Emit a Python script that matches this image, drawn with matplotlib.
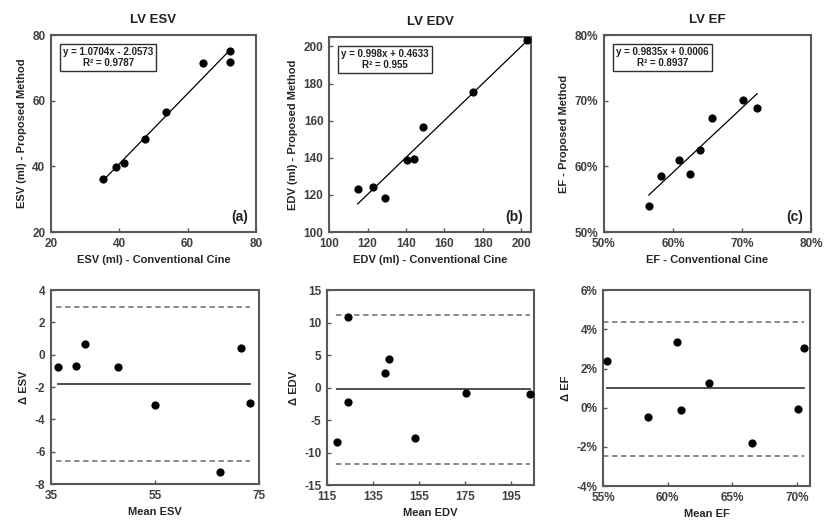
import numpy as np
import matplotlib.pyplot as plt
from matplotlib.ticker import PercentFormatter

plt.rcParams['font.family'] = ['Liberation Sans', 'DejaVu Sans']
plt.rcParams['font.weight'] = 'bold'
plt.rcParams['axes.labelweight'] = 'bold'
plt.rcParams['axes.unicode_minus'] = False

# scatter data (conventional cine vs proposed method)
esv_conv = [35.3, 38.9, 41.4, 47.4, 53.6, 64.5, 72.5, 72.5]
esv_prop = [36.2, 39.9, 40.9, 48.3, 56.6, 71.5, 71.8, 75.2]
edv_conv = [114.9, 122.6, 129.1, 140.3, 144.1, 149.0, 174.8, 202.8]
edv_prop = [123.4, 124.5, 118.4, 138.6, 139.3, 156.6, 175.5, 203.6]
ef_conv = [56.5, 58.3, 60.9, 62.5, 63.9, 65.7, 70.2, 72.2]
ef_prop = [54.0, 58.6, 60.9, 58.9, 62.5, 67.3, 70.1, 68.95]

# regression fits shown in the boxes
esv_fit = (1.0704, -2.0573, 0.9787)
edv_fit = (0.998, 0.4633, 0.955)
ef_fit = (0.9835, 0.0006, 0.8937)

# Bland-Altman data
esv_mean = [36.3, 39.8, 41.5, 47.9, 55.0, 67.5, 71.6, 73.3]
esv_diff = [-0.76, -0.68, 0.64, -0.76, -3.09, -7.26, 0.43, -3.01]
esv_lines = (-1.8, 2.95, -6.55)
edv_mean = [119.4, 123.9, 124.1, 140.0, 142.0, 153.2, 175.4, 203.3]
edv_diff = [-8.3, -2.15, 10.8, 2.2, 4.45, -7.8, -0.77, -0.98]
edv_lines = (-0.26, 11.25, -11.8)
ef_mean = [55.3, 58.5, 61.0, 60.7, 63.2, 66.5, 70.1, 70.5]
ef_diff = [2.41, -0.46, -0.1, 3.36, 1.26, -1.8, -0.04, 3.07]
ef_lines = (1.0, 4.37, -2.45)

spine_col = '#595959'
text_col = '#404040'

fig = plt.figure(figsize=(8.33, 5.21), dpi=100)

top_pos = [[0.0612, 0.5547, 0.246, 0.378],
           [0.395, 0.5547, 0.2425, 0.374],
           [0.725, 0.5547, 0.2485, 0.378]]
bot_pos = [[0.0612, 0.071, 0.2497, 0.372],
           [0.3926, 0.069, 0.2485, 0.374],
           [0.724, 0.067, 0.2485, 0.376]]


def style(ax):
    for s in ax.spines.values():
        s.set_color(spine_col)
        s.set_linewidth(1.5)
    ax.tick_params(direction='in', length=3, width=1, color=spine_col,
                   labelcolor=text_col, labelsize=8.5, pad=4)


def scatter_panel(pos, conv, prop, fit, title, xlabel, ylabel, tag, lim, ticks, pct=False):
    ax = fig.add_axes(pos)
    style(ax)
    ax.scatter(conv, prop, s=24, color='black', zorder=3)
    m, b, r2 = fit
    xs = np.array([min(conv), max(conv)])
    bb = b * 100 if pct else b
    ax.plot(xs, m * xs + bb, color='black', lw=0.9)
    sign = '-' if b < 0 else '+'
    ax.text(0.06, 0.94, f'y = {m}x {sign} {abs(b)}\nR² = {r2}', transform=ax.transAxes,
            ha='left', va='top', fontsize=7, multialignment='center', color='#202020',
            linespacing=1.15,
            bbox=dict(boxstyle='square,pad=0.3', fc='white', ec='#303030', lw=1))
    ax.text(0.96, 0.04, tag, transform=ax.transAxes, ha='right', va='bottom',
            fontsize=10, color='#202020')
    ax.set_xlim(lim)
    ax.set_ylim(lim)
    ax.set_xticks(ticks)
    ax.set_yticks(ticks)
    if pct:
        ax.xaxis.set_major_formatter(PercentFormatter(100, decimals=0))
        ax.yaxis.set_major_formatter(PercentFormatter(100, decimals=0))
    ax.set_title(title, fontsize=9.5, fontweight='bold', color='#202020', pad=9)
    ax.set_xlabel(xlabel, fontsize=8, color='#262626', labelpad=4)
    ax.set_ylabel(ylabel, fontsize=8, color='#262626', labelpad=4)
    return ax


def ba_panel(pos, mean, diff, lines, xlabel, ylabel, xlim, xticks, ylim, yticks, pct=False):
    ax = fig.add_axes(pos)
    style(ax)
    bias, up, lo = lines
    x0, x1 = min(mean), max(mean)
    ax.plot([x0, x1], [bias, bias], color='#404040', lw=1.3)
    ax.plot([x0 - 0.3, x1], [up, up], color='#808080', lw=1.3, ls=(0, (3, 2)))
    ax.plot([x0 - 0.3, x1], [lo, lo], color='#808080', lw=1.3, ls=(0, (3, 2)))
    ax.scatter(mean, diff, s=24, color='black', zorder=3)
    ax.set_xlim(xlim)
    ax.set_ylim(ylim)
    ax.set_xticks(xticks)
    ax.set_yticks(yticks)
    if pct:
        ax.xaxis.set_major_formatter(PercentFormatter(100, decimals=0))
        ax.yaxis.set_major_formatter(PercentFormatter(100, decimals=0))
    ax.set_xlabel(xlabel, fontsize=8, color='#262626', labelpad=4)
    ax.set_ylabel(ylabel, fontsize=8, color='#262626', labelpad=4)
    return ax


scatter_panel(top_pos[0], esv_conv, esv_prop, esv_fit, 'LV ESV',
              'ESV (ml) - Conventional Cine', 'ESV (ml) - Proposed Method', '(a)',
              (20, 80), np.arange(20, 81, 20))
scatter_panel(top_pos[1], edv_conv, edv_prop, edv_fit, 'LV EDV',
              'EDV (ml) - Conventional Cine', 'EDV (ml) - Proposed Method', '(b)',
              (100, 205), np.arange(100, 201, 20))
scatter_panel(top_pos[2], ef_conv, ef_prop, ef_fit, 'LV EF',
              'EF - Conventional Cine', 'EF - Proposed Method', '(c)',
              (50, 80), np.arange(50, 81, 10), pct=True)

ba_panel(bot_pos[0], esv_mean, esv_diff, esv_lines, 'Mean ESV', 'Δ ESV',
         (35, 75), [35, 55, 75], (-8, 4), np.arange(-8, 5, 2))
ba_panel(bot_pos[1], edv_mean, edv_diff, edv_lines, 'Mean EDV', 'Δ EDV',
         (115, 205), np.arange(115, 200, 20), (-15, 15), np.arange(-15, 16, 5))
ba_panel(bot_pos[2], ef_mean, ef_diff, ef_lines, 'Mean EF', 'Δ EF',
         (55, 71), np.arange(55, 71, 5), (-4, 6), np.arange(-4, 7, 2), pct=True)

fig.savefig('out.png', dpi=100)
